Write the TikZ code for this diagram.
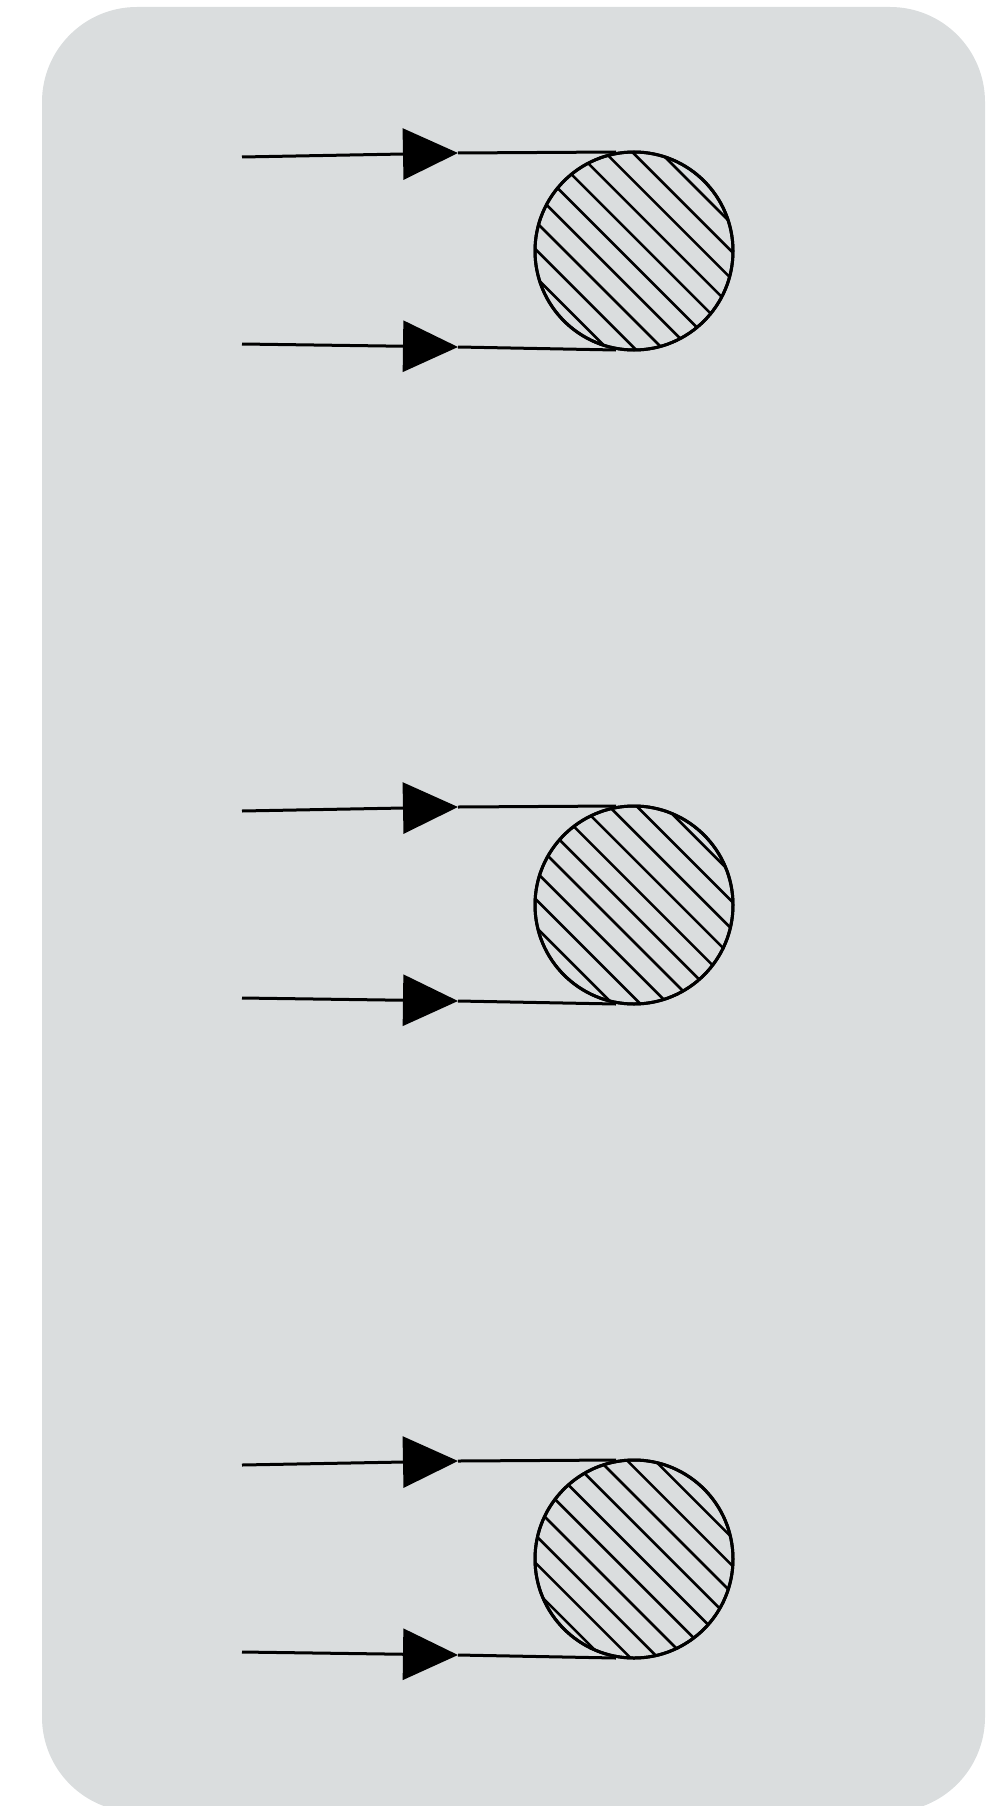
\documentclass[tikz,border=0pt]{standalone}
\usetikzlibrary{arrows.meta,calc}
\definecolor{bg}{RGB}{218,221,222}
\tikzset{
  wire/.style={line width=3pt, line cap=butt},
  arrowwire/.style={wire, -{Triangle[length=55pt,width=51pt]}},
  ball/.style={circle, draw, line width=3pt, inner sep=0pt, minimum size=198pt},
  hatch/.style={line width=2.6pt}
}
\begin{document}
\begin{tikzpicture}[x=1pt,y=-1pt]
\useasboundingbox (0,0) rectangle (1004,1806);
\fill[bg, rounded corners=95pt] (42,7) rectangle (985,1812);
\foreach \i/\dy/\sh in {1/0/0, 2/654/3, 3/1308/-4}{
  \coordinate (u\i s) at (242,157+\dy);
  \coordinate (u\i t) at (458,153+\dy);
  \coordinate (u\i e) at (616,152+\dy);
  \coordinate (l\i s) at (242,344+\dy);
  \coordinate (l\i t) at (458,347+\dy);
  \coordinate (l\i e) at (616,350+\dy);
  \node[ball] (c\i) at (634,251+\dy) {};
  \begin{scope}
    \clip (c\i.center) circle (99);
    \foreach \j in {0,...,9}{
      \pgfmathsetmacro{\k}{-88+19.6*\j+\sh}
      \draw[hatch] ($(c\i.center)+(\k*0.7071,-\k*0.7071)+(-160,-160)$) -- +(320,320);
    }
  \end{scope}
  \node[ball] at (c\i.center) {};
  \draw[arrowwire] (u\i s) -- (u\i t);
  \draw[wire] (u\i t) -- (u\i e);
  \draw[arrowwire] (l\i s) -- (l\i t);
  \draw[wire] (l\i t) -- (l\i e);
}
\end{tikzpicture}
\end{document}
